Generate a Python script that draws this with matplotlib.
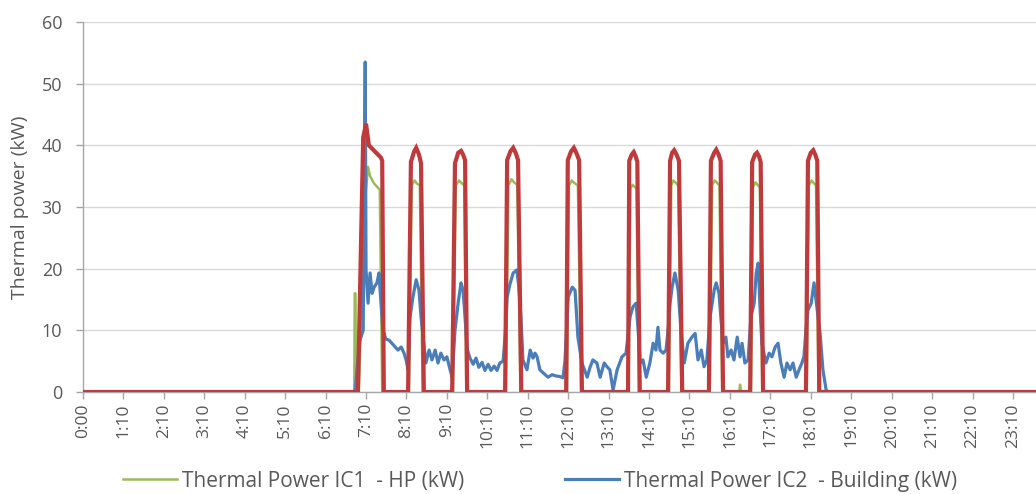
import matplotlib
matplotlib.use("Agg")
import matplotlib.pyplot as plt

# Tick labels along the time axis (one per hour slot)
tick_labels = ["0:00"] + [f"{h}:10" for h in range(1, 24)]

# Thermal Power IC1 - HP (kW)
hp_t = [0.00, 6.71, 6.72, 6.74, 6.75, 6.82, 6.96, 7.05, 7.10, 7.20, 7.34, 7.40,
        8.06, 8.13, 8.20, 8.26, 8.33, 8.40,
        9.15, 9.22, 9.30, 9.36, 9.43, 9.48,
        10.46, 10.52, 10.60, 10.66, 10.74, 10.82,
        11.97, 12.02, 12.09, 12.15, 12.24, 12.32,
        13.49, 13.54, 13.59, 13.64, 13.69, 13.75,
        14.49, 14.55, 14.60, 14.65, 14.72, 14.80,
        15.50, 15.56, 15.62, 15.67, 15.74, 15.81,
        16.23, 16.25, 16.28,
        16.52, 16.57, 16.63, 16.68, 16.74, 16.80,
        17.90, 17.95, 18.02, 18.07, 18.13, 18.19,
        23.60]
hp_kw = [0, 0, 16, 16, 0, 0, 30, 36.5, 35, 33.8, 32.8, 0,
         0, 33.5, 34.3, 33.8, 33.5, 0,
         0, 33.5, 34.3, 33.9, 33.5, 0,
         0, 33.5, 34.5, 34.0, 33.6, 0,
         0, 33.5, 34.3, 33.9, 33.5, 0,
         0, 33.0, 33.6, 33.3, 33.0, 0,
         0, 33.5, 34.3, 34.0, 33.5, 0,
         0, 33.5, 34.3, 34.0, 33.5, 0,
         0, 1.2, 0,
         0, 33.2, 34.0, 33.6, 33.2, 0,
         0, 33.5, 34.3, 33.9, 33.5, 0,
         0]

# Thermal Power IC2 - Building (kW)
bld_t = [0.00, 6.73, 6.78, 6.85, 6.93, 6.98, 7.00, 7.05, 7.10, 7.15, 7.20, 7.27,
         7.32, 7.37, 7.42, 7.49, 7.57, 7.64, 7.72, 7.79, 7.87, 7.94, 7.99, 8.04,
         8.09, 8.16, 8.24, 8.31, 8.36, 8.43, 8.48, 8.56, 8.63, 8.71, 8.78, 8.85,
         8.93, 9.00, 9.08, 9.13, 9.20, 9.28, 9.35, 9.40, 9.45, 9.50, 9.57, 9.65,
         9.72, 9.79, 9.87, 9.94, 10.02, 10.09, 10.17, 10.24, 10.31, 10.39, 10.44,
         10.49, 10.56, 10.64, 10.73, 10.78, 10.83, 10.88, 10.98, 11.06, 11.13,
         11.18, 11.23, 11.30, 11.40, 11.50, 11.60, 11.70, 11.80, 11.87, 11.92,
         12.00, 12.10, 12.17, 12.24, 12.34, 12.47, 12.54, 12.61, 12.71, 12.79,
         12.89, 12.96, 13.03, 13.11, 13.21, 13.33, 13.43, 13.53, 13.60, 13.68,
         13.73, 13.78, 13.85, 13.93, 14.02, 14.10, 14.17, 14.22, 14.27, 14.35,
         14.42, 14.47, 14.52, 14.57, 14.64, 14.72, 14.79, 14.87, 14.96, 15.06,
         15.14, 15.21, 15.29, 15.36, 15.43, 15.51, 15.61, 15.66, 15.73, 15.78,
         15.83, 15.90, 15.95, 16.03, 16.10, 16.18, 16.25, 16.30, 16.37, 16.45,
         16.52, 16.60, 16.65, 16.70, 16.74, 16.79, 16.89, 16.97, 17.04, 17.12,
         17.19, 17.26, 17.34, 17.41, 17.49, 17.56, 17.64, 17.71, 17.78, 17.83,
         17.88, 17.93, 18.01, 18.08, 18.15, 18.23, 18.30, 18.38, 18.43, 23.60]
bld_kw = [0, 0, 4.0, 8.4, 10.0, 53.5, 19.8, 14.4, 19.3, 16.0, 17.0, 17.7,
          19.3, 14.4, 10.0, 8.6, 8.4, 7.9, 7.3, 6.8, 7.3, 6.3, 5.2, 3.6,
          12.2, 15.4, 18.2, 16.5, 12.2, 7.9, 4.7, 6.8, 5.2, 6.8, 4.7, 6.3,
          5.2, 5.7, 3.6, 2.4, 10.0, 14.5, 17.7, 16.5, 12.0, 7.0, 5.5, 4.5,
          5.5, 4.0, 4.8, 3.5, 4.5, 3.5, 4.2, 3.5, 4.7, 5.0, 9.0,
          15.4, 17.5, 19.3, 19.8, 17.0, 12.2, 5.2, 3.6, 6.8, 5.5,
          6.3, 5.7, 3.6, 3.0, 2.4, 2.8, 2.6, 2.5, 2.3, 5.0,
          15.4, 17.0, 16.5, 8.9, 4.7, 2.4, 4.0, 5.2, 4.7, 2.4,
          4.7, 4.1, 3.6, 0.3, 3.6, 5.7, 6.3, 12.2, 13.8, 14.4,
          10.0, 4.7, 5.2, 2.4, 4.7, 7.9, 6.8, 10.5, 6.8, 6.3,
          6.8, 10.0, 14.4, 17.0, 19.3, 16.5, 10.0, 4.7, 7.9, 8.9,
          9.5, 5.2, 6.8, 4.1, 5.2, 12.2, 16.5, 17.7, 16.0, 11.7,
          7.9, 8.9, 5.7, 6.8, 5.2, 8.9, 5.7, 7.9, 4.7, 5.2,
          12.2, 14.4, 19.3, 20.9, 14.4, 7.9, 4.7, 6.3, 5.7, 7.3,
          7.9, 4.7, 2.4, 4.7, 3.6, 4.7, 2.4, 3.6, 4.7, 5.7,
          10.0, 13.3, 14.4, 17.7, 13.8, 9.5, 3.6, 0.3, 0, 0]

# Third series (red), drawn without a legend entry
red_t = [0.00, 6.80, 6.93, 7.00, 7.07, 7.37, 7.40, 7.44,
         8.04, 8.11, 8.19, 8.24, 8.31, 8.36, 8.43,
         9.13, 9.20, 9.28, 9.35, 9.40, 9.45, 9.50,
         10.44, 10.49, 10.57, 10.64, 10.70, 10.76, 10.84,
         11.95, 11.99, 12.07, 12.14, 12.20, 12.27, 12.34,
         13.48, 13.51, 13.57, 13.62, 13.67, 13.71, 13.77,
         14.47, 14.52, 14.57, 14.62, 14.68, 14.74, 14.82,
         15.48, 15.53, 15.61, 15.66, 15.72, 15.77, 15.83,
         16.50, 16.55, 16.62, 16.67, 16.72, 16.76, 16.82,
         17.88, 17.93, 18.00, 18.06, 18.11, 18.16, 18.21,
         23.60]
red_kw = [0, 0, 41.3, 43.5, 40.0, 38.0, 37.5, 0,
          0, 37.3, 39.0, 39.6, 38.5, 37.1, 0,
          0, 37.1, 38.8, 39.1, 38.5, 37.6, 0,
          0, 37.6, 39.0, 39.6, 38.8, 37.6, 0,
          0, 37.6, 39.0, 39.6, 38.8, 37.6, 0,
          0, 37.5, 38.5, 38.9, 38.2, 37.3, 0,
          0, 37.5, 38.8, 39.2, 38.5, 37.5, 0,
          0, 37.5, 38.8, 39.3, 38.5, 37.5, 0,
          0, 37.3, 38.5, 38.8, 38.2, 37.3, 0,
          0, 37.5, 38.8, 39.2, 38.5, 37.5, 0,
          0]

plt.rcParams["font.family"] = ["Open Sans", "DejaVu Sans"]
text_grey = "#595959"

fig = plt.figure(figsize=(10.36, 4.94), dpi=100)
ax = fig.add_axes([83 / 1036, 102 / 494, (1036 - 83) / 1036, 370 / 494])

ax.plot(hp_t, hp_kw, color="#9BBB59", lw=1.8, label="Thermal Power IC1  - HP (kW)", zorder=3)
ax.plot(bld_t, bld_kw, color="#4A7EBB", lw=2.3, label="Thermal Power IC2  - Building (kW)", zorder=4)
ax.plot(red_t, red_kw, color="#C0393B", lw=3.0, zorder=5, solid_joinstyle="miter")

ax.set_xlim(0, 23.57)
ax.set_ylim(0, 60)
ax.set_yticks(range(0, 61, 10))
ax.set_xticks(range(len(tick_labels)))
ax.set_xticklabels(tick_labels, rotation=90)

ax.grid(axis="y", color="#D9D9D9", lw=1.0)
ax.set_axisbelow(True)
for s in ("top", "right"):
    ax.spines[s].set_visible(False)
for s in ("left", "bottom"):
    ax.spines[s].set_color("#A6A6A6")
    ax.spines[s].set_linewidth(1.0)

ax.tick_params(axis="both", direction="out", length=5, width=1.0, color="#A6A6A6",
               labelcolor=text_grey, labelsize=12.5)
ax.tick_params(axis="x", pad=3)
ax.tick_params(axis="y", pad=10, labelsize=13)
ax.set_ylabel("Thermal power (kW)", fontsize=14, color=text_grey, labelpad=9)

fig.legend(loc="center", bbox_to_anchor=(540 / 1036, 1 - 481 / 494), ncol=2,
           frameon=False, fontsize=15, handlelength=2.6, handletextpad=0.25,
           columnspacing=4.8, labelcolor=text_grey)

fig.savefig("out.png", dpi=100)
